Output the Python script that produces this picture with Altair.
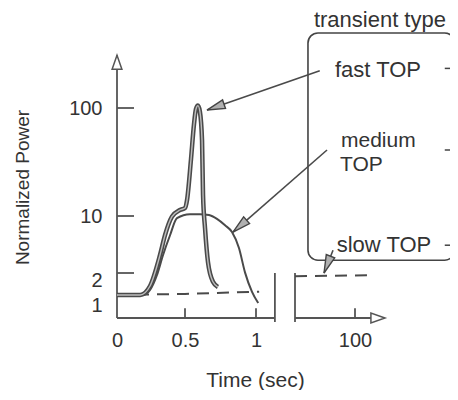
import altair as alt
import pandas as pd

# ---------------- values ----------------
x_tick_values = [0, 0.5, 1, 100]
y_tick_values = [1, 2, 10, 100]

fast_t = [0, 0.17, 0.243, 0.316, 0.353, 0.404, 0.463, 0.5, 0.514, 0.542, 0.563,
          0.577, 0.591, 0.605, 0.62, 0.627, 0.641, 0.662, 0.697, 0.732]
fast_p = [1, 1, 1.41, 4.5, 7.3, 9.9, 15, 16.7, 23, 57, 86,
          99, 102, 97, 73, 27.5, 8.3, 3.5, 1.6, 1.36]

medium_t = [0, 0.19, 0.243, 0.294, 0.338, 0.39, 0.441, 0.535, 0.605, 0.669,
            0.725, 0.782, 0.831, 0.88, 0.923, 0.972, 1.021]
medium_p = [1, 1, 1.23, 1.91, 4.5, 7.3, 9.7, 11.5, 11.5, 10.8,
            9.6, 8.7, 7.75, 5.5, 2.05, 1.14, 0.65]

slow_left_t = [0, 0.5, 1.03]
slow_left_p = [1.0, 1.05, 1.15]
slow_right_t = [20, 116]
slow_right_p = [1.85, 1.9]

series_names = ["fast TOP", "medium TOP", "slow TOP"]

# schematic (broken, non-uniform) axes of the original figure
x_domain = [0, 0.5, 1, 1.2, 20, 100, 227]
x_range = [0, 68, 139, 160, 178, 238, 333]
y_domain = [0, 1, 2, 10, 100, 180]
y_range = [308, 285, 263, 206, 98, 2]

# annotation anchors (in data units)
arrow_tail_t = [53, 62.7, 70.7]
arrow_tail_p = [131, 65, 5.2]
arrow_tip_t = [0.655, 0.838, 58.7]
arrow_tip_p = [98.3, 7.75, 2.0]
arrow_angle = [251, 229, 201]

box_t = [37.3, 233.3]
box_p = [3.8, 162.5]
box_tick_p = [133, 65, 5.9]

FONT = "Liberation Sans"
INK = "#333333"
LINE = "#4a4a4a"

xs = alt.Scale(domain=x_domain, range=x_range, nice=False, zero=False)
ys = alt.Scale(domain=y_domain, range=y_range, nice=False, zero=False)

X = alt.X("t:Q", scale=xs, axis=alt.Axis(
    values=x_tick_values, format="~r", domain=False, ticks=False, grid=False,
    labelFlush=False, labelOverlap=False, labelPadding=12, labelFontSize=20,
    labelFont=FONT, labelColor=INK, title="Time (sec)", titleFont=FONT,
    titleFontSize=21, titleFontWeight="normal", titleColor=INK, titleX=138,
    titleY=62, titleAlign="center", titleBaseline="middle"))
Y = alt.Y("p:Q", scale=ys, axis=alt.Axis(
    values=y_tick_values, format="~r", domain=False, ticks=False, grid=False,
    labelFlush=False, labelOverlap=False, labelPadding=15, labelFontSize=20,
    labelFont=FONT, labelColor=INK,
    labelOffset={"condition": [{"test": "datum.value == 1", "value": 10},
                               {"test": "datum.value == 2", "value": 7}],
                 "value": 0},
    title="Normalized Power", titleFont=FONT, titleFontSize=19,
    titleFontWeight="normal", titleColor=INK, titleX=-95, titleY=177,
    titleAngle=270, titleAlign="center", titleBaseline="middle"))

# ---------------- tables ----------------
axis_end_t = 140
axis_top_p = 144
break_t = [1.18, 20]
rules = pd.DataFrame(
    [dict(t=0, p=0, t2=0, p2=axis_top_p),
     dict(t=0, p=0, t2=break_t[0], p2=0),
     dict(t=break_t[1], p=0, t2=axis_end_t - 3, p2=0)]
    + [dict(t=b, p=-0.17, t2=b, p2=2.0) for b in break_t]
    + [dict(t=0, p=v, t2=0.125, p2=v) for v in y_tick_values[1:]]
    + [dict(t=v, p=0, t2=v, p2=0.42) for v in x_tick_values[1:]]
)

fast = pd.DataFrame({"t": fast_t, "p": fast_p, "i": range(len(fast_t))})
medium = pd.DataFrame({"t": medium_t, "p": medium_p, "i": range(len(medium_t))})
slow = pd.DataFrame({
    "t": slow_left_t + slow_right_t,
    "p": slow_left_p + slow_right_p,
    "seg": ["a"] * len(slow_left_t) + ["b"] * len(slow_right_t),
})

arrows = pd.DataFrame({
    "t": arrow_tail_t + arrow_tip_t,
    "p": arrow_tail_p + arrow_tip_p,
    "id": series_names + series_names,
})
heads = pd.DataFrame({"t": arrow_tip_t, "p": arrow_tip_p, "ang": arrow_angle})
axis_heads = pd.DataFrame({"t": [0, axis_end_t], "p": [axis_top_p, 0], "ang": [0, 90]})

box = pd.DataFrame({"t": [box_t[0]], "t2": [box_t[1]], "p": [box_p[0]], "p2": [box_p[1]]})
box_ticks = pd.DataFrame({"t": [220] * 3, "t2": [237.3] * 3, "p": box_tick_p, "p2": box_tick_p})

text_center = pd.DataFrame({
    "label": ["transient type", "fast TOP", "slow TOP"],
    "t": [133.3, 130.7, 138.7],
    "p": [173.3, 131.7, 5.9],
})
text_left = pd.DataFrame({"label": ["medium", "TOP"], "t": [81.3, 80], "p": [72.5, 52.5]})

# ---------------- layers ----------------
rule_layer = alt.Chart(rules).mark_rule(color="#555555", strokeWidth=1.8).encode(
    x=X, y=Y, x2="t2:Q", y2="p2:Q")

slow_layer = alt.Chart(slow).mark_line(
    color=LINE, strokeWidth=2, strokeDash=[12, 8]).encode(x=X, y=Y, detail="seg:N")

medium_layer = alt.Chart(medium).mark_line(
    color=LINE, strokeWidth=2, interpolate="monotone").encode(x=X, y=Y, order="i:Q")

fast_outer = alt.Chart(fast).mark_line(
    color=LINE, strokeWidth=4.5, interpolate="monotone").encode(x=X, y=Y, order="i:Q")
fast_inner = alt.Chart(fast).mark_line(
    color="#bdbdbd", strokeWidth=1.4, interpolate="monotone").encode(x=X, y=Y, order="i:Q")

arrow_lines = alt.Chart(arrows).mark_line(color=LINE, strokeWidth=1.6).encode(
    x=X, y=Y, detail="id:N")

ARROW = "M0,0L-0.5,2L0.5,2Z"
arrow_heads = alt.Chart(heads).mark_point(
    shape=ARROW, size=324, filled=True, fill="#b0b0b0", stroke="#444444",
    strokeWidth=1.4, opacity=1).encode(x=X, y=Y, angle=alt.Angle("ang:Q", scale=None))

AXHEAD = "M0,0L-0.7,2L0.7,2Z"
axis_arrow_heads = alt.Chart(axis_heads).mark_point(
    shape=AXHEAD, size=196, filled=True, fill="#ffffff", stroke="#555555",
    strokeWidth=1.5, opacity=1).encode(x=X, y=Y, angle=alt.Angle("ang:Q", scale=None))

box_layer = alt.Chart(box).mark_rect(
    fillOpacity=0, stroke="#444444", strokeWidth=1.6, cornerRadius=10).encode(
    x=X, y=Y, x2="t2:Q", y2="p2:Q")
box_tick_layer = alt.Chart(box_ticks).mark_rule(color="#444444", strokeWidth=1.5).encode(
    x=X, y=Y, x2="t2:Q", y2="p2:Q")

txt_c = alt.Chart(text_center).mark_text(
    font=FONT, fontSize=22, color=INK, align="center", baseline="middle").encode(
    x=X, y=Y, text="label:N")
txt_l = alt.Chart(text_left).mark_text(
    font=FONT, fontSize=21, color=INK, align="left", baseline="middle").encode(
    x=X, y=Y, text="label:N")

chart = alt.layer(
    rule_layer, slow_layer, medium_layer, fast_outer, fast_inner,
    box_layer, box_tick_layer, arrow_lines, arrow_heads, axis_arrow_heads,
    txt_c, txt_l,
).properties(
    width=333, height=308,
    padding={"left": 109, "top": 2, "right": 0, "bottom": 72},
    autosize=alt.AutoSizeParams(type="none"),
    background="white",
).configure_view(stroke=None)

chart.save("out.html", embed_options={"renderer": "svg", "actions": False})
